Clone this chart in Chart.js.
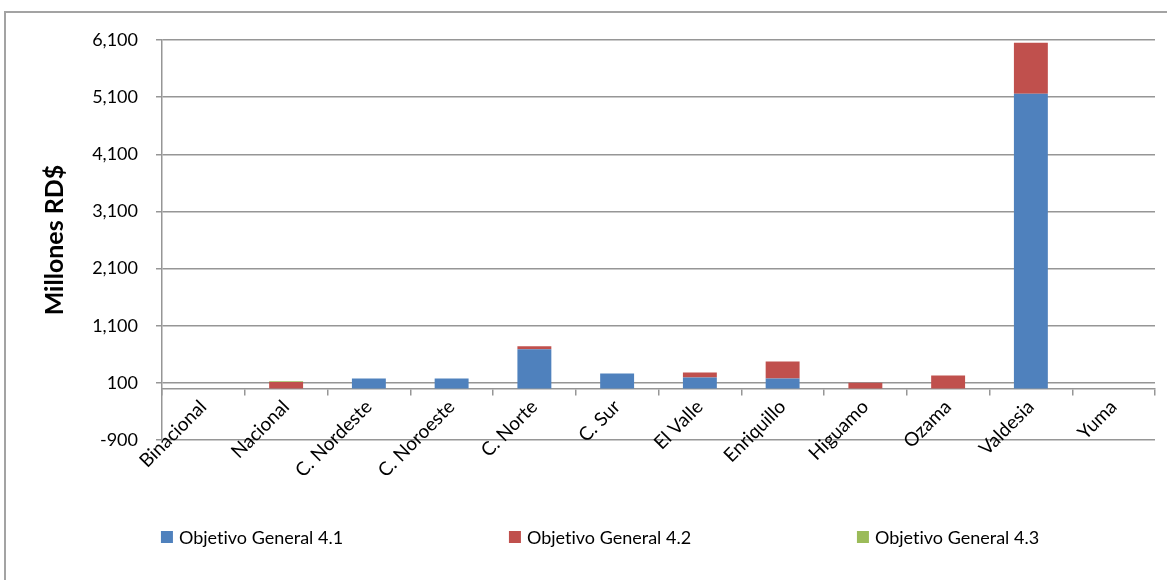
<!DOCTYPE html>
<html>
<head>
<meta charset="utf-8">
<script src="https://cdn.jsdelivr.net/npm/chart.js@4.4.0/dist/chart.umd.min.js"></script>
<style>
  html, body { margin: 0; padding: 0; background: #fff; }
  #wrap { position: relative; width: 1167px; height: 580px; overflow: hidden; }
  #frame { position: absolute; left: 4px; top: 11px; width: 1200px; height: 600px;
           border-left: 2px solid #a3a3a3; border-top: 2px solid #a3a3a3; }
  canvas { position: absolute; left: 0; top: 0; }
</style>
</head>
<body>
<div id="wrap">
  <div id="frame"></div>
  <canvas id="c" width="1167" height="580"></canvas>
</div>
<script>
const categories = ['Binacional', 'Nacional', 'C. Nordeste', 'C. Noroeste', 'C. Norte', 'C. Sur', 'El Valle', 'Enriquillo', 'Higuamo', 'Ozama', 'Valdesia', 'Yuma'];
const og41 = [0, 0, 175, 175, 690, 262, 192, 175, 0, 0, 5160, 0];
const og42 = [0, 115, 0, 0, 50, 0, 88, 297, 100, 227, 890, 0];
const og43 = [0, 15, 0, 0, 0, 0, 0, 0, 0, 0, 0, 0];
const seriesNames = ['Objetivo General 4.1', 'Objetivo General 4.2', 'Objetivo General 4.3'];
const yMin = -900, yMax = 6100, yStep = 1000;

const FONT = 'Lato, "Open Sans", sans-serif';
const GRID = '#969696';

const customLegend = {
  id: 'customLegend',
  afterDraw(chart) {
    const ctx = chart.ctx;
    const ds = chart.data.datasets;
    ctx.save();
    ctx.font = '18px ' + FONT;
    try { ctx.textRendering = 'optimizeSpeed'; } catch (e) {}
    ctx.textBaseline = 'middle';
    ctx.textAlign = 'left';
    const box = 12, gapText = 6, pitch = 348;
    const widths = ds.map(d => box + gapText + ctx.measureText(d.label).width);
    const total = pitch * (ds.length - 1) + widths[ds.length - 1];
    let x = 600 - total / 2;
    const y = 537;
    ds.forEach((d, i) => {
      ctx.fillStyle = d.backgroundColor;
      ctx.fillRect(x, y - box / 2, box, box);
      ctx.fillStyle = '#000';
      ctx.fillText(d.label, x + box + gapText, y + 1);
      x += pitch;
    });
    ctx.restore();
  }
};

new Chart(document.getElementById('c'), {
  type: 'bar',
  data: {
    labels: categories,
    datasets: [
      { label: seriesNames[0], data: og41, backgroundColor: '#4F81BD' },
      { label: seriesNames[1], data: og42, backgroundColor: '#C0504D' },
      { label: seriesNames[2], data: og43, backgroundColor: '#9BBB59' }
    ]
  },
  options: {
    responsive: false,
    animation: false,
    devicePixelRatio: 1,
    layout: { padding: { left: 0, top: 40, right: 12, bottom: 140 } },
    datasets: { bar: { barPercentage: 0.41, categoryPercentage: 1.0 } },
    plugins: { legend: { display: false }, tooltip: { enabled: false } },
    scales: {
      x: {
        stacked: true,
        position: { y: 0 },
        grid: { display: true, drawOnChartArea: false, drawTicks: true, tickLength: 6, color: GRID, lineWidth: 1.5, offset: true },
        border: { display: true, color: GRID, width: 1.5 },
        ticks: { color: '#000', font: { family: FONT, size: 19 }, minRotation: 45, maxRotation: 45, padding: 1, autoSkip: false }
      },
      y: {
        stacked: true,
        min: yMin,
        max: yMax,
        afterFit(scale) { scale.width = 162; },
        afterBuildTicks(scale) {
          const t = [];
          for (let v = yMin; v <= yMax; v += yStep) t.push({ value: v });
          scale.ticks = t;
        },
        grid: { color: GRID, lineWidth: 1.5, tickLength: 6, drawTicks: true },
        border: { display: true, color: GRID, width: 1.5 },
        ticks: {
          color: '#000',
          font: { family: FONT, size: 18 },
          padding: 18,
          callback: v => v.toLocaleString('en-US')
        },
        title: {
          display: true,
          text: 'Millones RD$',
          color: '#000',
          font: { family: FONT, size: 25, weight: 'bold' },
          padding: { top: 40, bottom: 0 }
        }
      }
    }
  },
  plugins: [customLegend]
});
</script>
</body>
</html>
